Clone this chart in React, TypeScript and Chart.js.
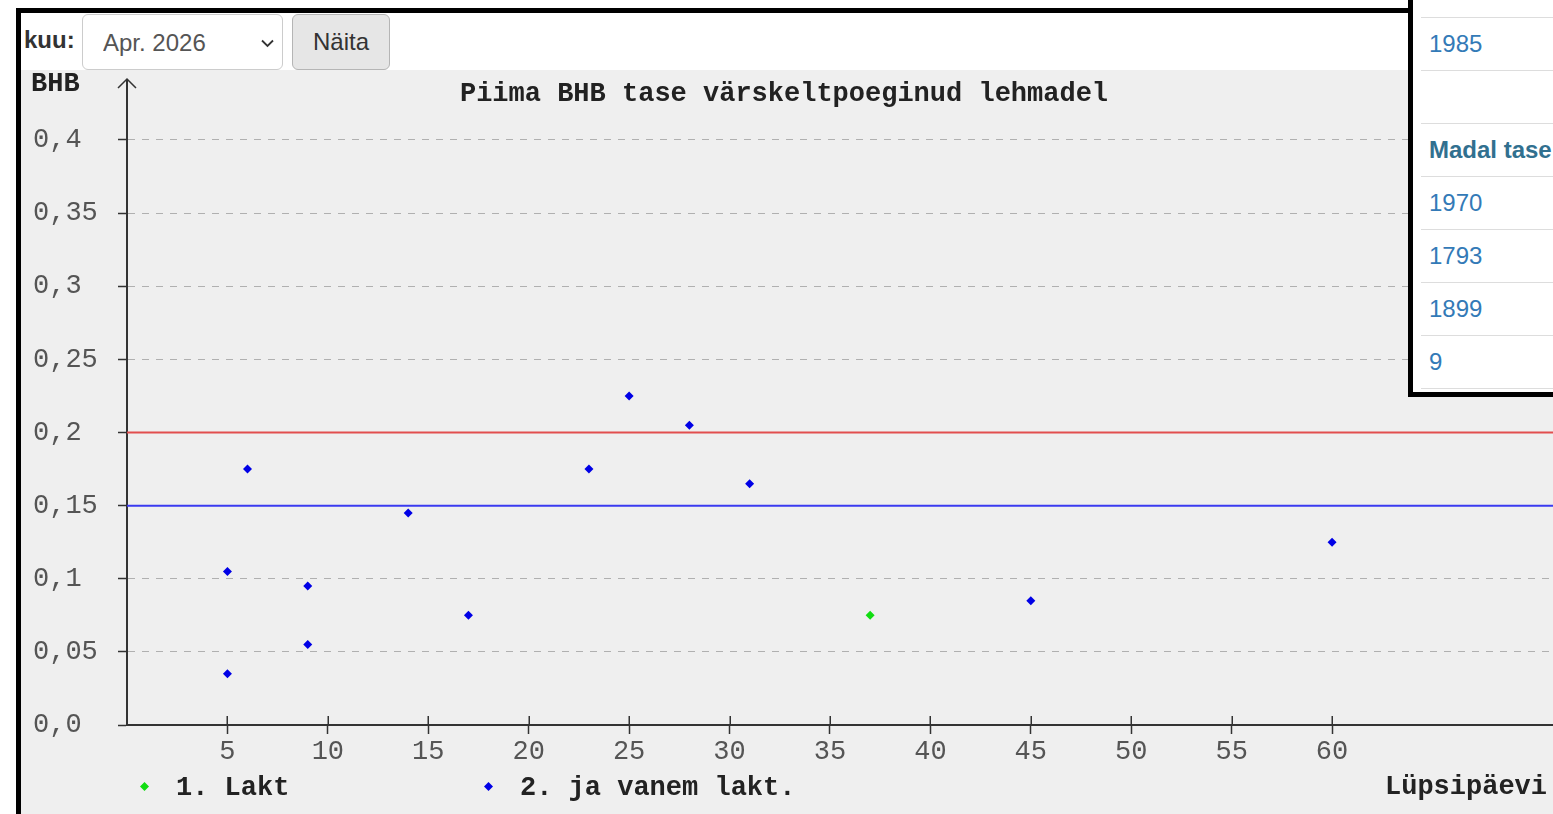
import React, { useEffect, useRef } from 'react';
import { Chart, registerables } from 'chart.js';

Chart.register(...registerables);

// ---------- data ----------
const chartTitle = 'Piima BHB tase värskeltpoeginud lehmadel';
const yAxisLabel = 'BHB';
const xAxisLabel = 'Lüpsipäevi';

const series1Label = '1. Lakt';
const series1Days = [37];
const series1Bhb = [0.075];

const series2Label = '2. ja vanem lakt.';
const series2Days = [5, 5, 6, 9, 9, 14, 17, 23, 25, 28, 31, 45, 60];
const series2Bhb = [0.105, 0.035, 0.175, 0.095, 0.055, 0.145, 0.075, 0.175, 0.225, 0.205, 0.165, 0.085, 0.125];

const upperLimitLabel = 'Kõrge tase';
const upperLimit = 0.2;
const lowerLimitLabel = 'Madal tase';
const lowerLimit = 0.15;

const xMin = 0;
const xMax = 71;
const yMin = 0;
const yMax = 0.44;
const xTickValues = [5, 10, 15, 20, 25, 30, 35, 40, 45, 50, 55, 60];
const yTickValues = [0, 0.05, 0.1, 0.15, 0.2, 0.25, 0.3, 0.35, 0.4];
const yTickLabels = ['0,0', '0,05', '0,1', '0,15', '0,2', '0,25', '0,3', '0,35', '0,4'];

const monthLabel = 'kuu:';
const monthOptions = ['Apr. 2026'];
const showButtonLabel = 'Näita';
const tableRows = ['', '1985', '', 'Madal tase', '1970', '1793', '1899', '9'];
const tableHeaderRows = ['Madal tase'];

// ---------- styles ----------
const MONO = '"Liberation Mono", "Courier New", monospace';
const SANS = '"Liberation Sans", Arial, Helvetica, sans-serif';
const AXIS = '#333333';
const TICK_TEXT = '#555555';
const DARK_TEXT = '#222222';
const BLUE_POINT = '#0000e6';
const GREEN_POINT = '#11dd11';
const RED_LINE = 'rgb(226, 78, 78)';
const BLUE_LINE = 'rgb(58, 58, 240)';

function diamond(ctx: CanvasRenderingContext2D, cx: number, cy: number, r: number, color: string) {
  ctx.beginPath();
  ctx.moveTo(cx, cy - r);
  ctx.lineTo(cx + r, cy);
  ctx.lineTo(cx, cy + r);
  ctx.lineTo(cx - r, cy);
  ctx.closePath();
  ctx.fillStyle = color;
  ctx.fill();
}

const zeroPadding = (s: any) => {
  s.paddingTop = 0;
  s.paddingBottom = 0;
  s.paddingLeft = 0;
  s.paddingRight = 0;
};

const decorations = {
  id: 'decorations',
  afterDraw(chart: any) {
    const { ctx, chartArea, scales } = chart;
    const xs = scales.x;
    ctx.save();
    // axis arrow
    ctx.strokeStyle = AXIS;
    ctx.lineWidth = 1.5;
    ctx.beginPath();
    ctx.moveTo(chartArea.left, chartArea.top + 1);
    ctx.lineTo(chartArea.left, chartArea.top - 2.5);
    ctx.moveTo(chartArea.left - 9, chartArea.top + 6.5);
    ctx.lineTo(chartArea.left, chartArea.top - 2.5);
    ctx.lineTo(chartArea.left + 9, chartArea.top + 6.5);
    ctx.stroke();
    // x ticks crossing the axis (upper halves)
    ctx.lineWidth = 1.5;
    ctx.beginPath();
    xs.ticks.forEach((t: any) => {
      const px = Math.round(xs.getPixelForValue(t.value)) + 0.25;
      ctx.moveTo(px, chartArea.bottom - 9);
      ctx.lineTo(px, chartArea.bottom);
    });
    ctx.stroke();
    // title
    ctx.fillStyle = DARK_TEXT;
    ctx.font = `bold 27px ${MONO}`;
    ctx.textBaseline = 'alphabetic';
    ctx.textAlign = 'center';
    ctx.fillText(chartTitle, 763, 31);
    // y label
    ctx.textAlign = 'left';
    ctx.fillText(yAxisLabel, 10, 20.5);
    // legend
    const ds = chart.data.datasets;
    diamond(ctx, 123.5, 716.5, 4.5, ds[1].backgroundColor);
    diamond(ctx, 467.5, 716.5, 4.5, ds[0].backgroundColor);
    ctx.fillStyle = DARK_TEXT;
    ctx.fillText(ds[1].label, 155, 725);
    ctx.fillText(ds[0].label, 499, 725);
    // x axis label
    ctx.textAlign = 'right';
    ctx.fillText(xAxisLabel, 1526, 724);
    ctx.restore();
  },
};

function BhbChart() {
  const ref = useRef<HTMLCanvasElement | null>(null);
  useEffect(() => {
    if (!ref.current) return;
    const chart = new Chart(ref.current, {
      type: 'scatter',
      data: {
        datasets: [
          {
            label: series2Label,
            data: series2Days.map((d, i) => ({ x: d, y: series2Bhb[i] })),
            pointStyle: 'rectRot',
            pointRadius: 4.5,
            pointHoverRadius: 4.5,
            backgroundColor: BLUE_POINT,
            borderColor: BLUE_POINT,
            borderWidth: 0,
          },
          {
            label: series1Label,
            data: series1Days.map((d, i) => ({ x: d, y: series1Bhb[i] })),
            pointStyle: 'rectRot',
            pointRadius: 4.5,
            pointHoverRadius: 4.5,
            backgroundColor: GREEN_POINT,
            borderColor: GREEN_POINT,
            borderWidth: 0,
          },
          {
            type: 'line',
            label: upperLimitLabel,
            data: [{ x: xMin, y: upperLimit }, { x: xMax, y: upperLimit }],
            borderColor: RED_LINE,
            backgroundColor: RED_LINE,
            borderWidth: 2,
            pointRadius: 0,
            fill: false,
          },
          {
            type: 'line',
            label: lowerLimitLabel,
            data: [{ x: xMin, y: lowerLimit }, { x: xMax, y: lowerLimit }],
            borderColor: BLUE_LINE,
            backgroundColor: BLUE_LINE,
            borderWidth: 2,
            pointRadius: 0,
            fill: false,
          },
        ],
      } as any,
      options: {
        animation: false,
        responsive: true,
        maintainAspectRatio: false,
        events: [],
        layout: { autoPadding: false, padding: { left: 12, top: 11.5, right: 0, bottom: 0 } },
        plugins: {
          legend: { display: false },
          title: { display: false },
          tooltip: { enabled: false },
        },
        scales: {
          x: {
            type: 'linear',
            min: xMin,
            max: xMax,
            afterBuildTicks: (s: any) => {
              s.ticks = xTickValues.map((v) => ({ value: v }));
            },
            afterFit: (s: any) => {
              s.height = 89;
              zeroPadding(s);
            },
            grid: {
              display: true,
              drawOnChartArea: false,
              drawTicks: true,
              tickLength: 9,
              tickColor: AXIS,
              tickWidth: 1.5,
            },
            border: { display: true, color: AXIS, width: 2 },
            ticks: {
              color: TICK_TEXT,
              font: { family: MONO, size: 27 },
              padding: 2,
              maxRotation: 0,
              autoSkip: false,
            },
          },
          y: {
            type: 'linear',
            min: yMin,
            max: yMax,
            afterBuildTicks: (s: any) => {
              s.ticks = yTickValues.map((v) => ({ value: v }));
            },
            afterFit: (s: any) => {
              s.width = 94;
              zeroPadding(s);
            },
            grid: {
              color: '#b0b0b0',
              lineWidth: 1,
              drawTicks: true,
              tickLength: 9,
              tickColor: AXIS,
              tickWidth: 1.5,
              tickBorderDash: [],
            },
            border: { display: true, color: AXIS, width: 2, dash: [7, 7] },
            ticks: {
              color: TICK_TEXT,
              font: { family: MONO, size: 27 },
              crossAlign: 'far',
              autoSkip: false,
              callback: (_v: any, i: number) => yTickLabels[i],
            },
          },
        },
      } as any,
      plugins: [decorations],
    });
    return () => chart.destroy();
  }, []);
  return <canvas ref={ref} />;
}

export default function App() {
  return (
    <div
      style={{
        position: 'fixed',
        left: 0,
        top: 0,
        width: 1553,
        height: 814,
        overflow: 'hidden',
        background: '#fff',
        fontFamily: SANS,
      }}
    >
      {/* frame */}
      <div
        style={{
          position: 'absolute',
          left: 16,
          top: 8,
          width: 1700,
          height: 900,
          boxSizing: 'border-box',
          borderLeft: '5px solid #000',
          borderTop: '5px solid #000',
          background: '#fff',
        }}
      />
      {/* form bar */}
      <span
        style={{
          position: 'absolute',
          left: 24,
          top: 28.4,
          fontSize: 24,
          lineHeight: '24px',
          fontWeight: 'bold',
          color: '#333',
        }}
      >
        {monthLabel}
      </span>
      <select
        defaultValue={monthOptions[0]}
        style={{
          position: 'absolute',
          left: 82,
          top: 14,
          width: 201,
          height: 56,
          boxSizing: 'border-box',
          border: '1px solid #ccc',
          borderRadius: 6,
          background: '#fff',
          color: '#555',
          fontFamily: SANS,
          fontSize: 24,
          paddingLeft: 20,
          appearance: 'none',
          WebkitAppearance: 'none',
          outline: 'none',
        } as any}
      >
        {monthOptions.map((m) => (
          <option key={m} value={m}>
            {m}
          </option>
        ))}
      </select>
      <svg
        width={13}
        height={9}
        style={{ position: 'absolute', left: 261, top: 39, pointerEvents: 'none' }}
      >
        <polyline points="1,1.5 6.5,7 12,1.5" fill="none" stroke="#333" strokeWidth={1.8} />
      </svg>
      <button
        style={{
          position: 'absolute',
          left: 292,
          top: 14,
          width: 98,
          height: 56,
          boxSizing: 'border-box',
          border: '1px solid #b5b5b5',
          borderRadius: 6,
          background: '#e6e6e6',
          color: '#333',
          fontFamily: SANS,
          fontSize: 24,
          padding: 0,
        }}
      >
        {showButtonLabel}
      </button>
      {/* chart area */}
      <div
        style={{
          position: 'absolute',
          left: 21,
          top: 70,
          width: 1532,
          height: 744,
          background: '#efefef',
        }}
      >
        <div style={{ position: 'relative', width: 1532, height: 744 }}>
          <BhbChart />
        </div>
      </div>
      {/* side table */}
      <div
        style={{
          position: 'absolute',
          left: 1408,
          top: 0,
          width: 200,
          height: 397,
          boxSizing: 'border-box',
          borderLeft: '5px solid #000',
          borderBottom: '5px solid #000',
          background: '#fff',
          overflow: 'hidden',
        }}
      >
        {tableRows.map((r, i) => (
          <div
            key={i}
            style={{
              position: 'absolute',
              left: 8,
              right: 0,
              top: -35.6 + i * 53.1,
              height: 53.1,
              boxSizing: 'border-box',
              borderBottom: '1px solid #dddddd',
              paddingLeft: 8,
              display: 'flex',
              alignItems: 'center',
              fontSize: 24,
              whiteSpace: 'nowrap',
              fontWeight: tableHeaderRows.includes(r) ? 'bold' : 'normal',
              color: tableHeaderRows.includes(r) ? '#31708f' : '#337ab7',
            }}
          >
            {r}
          </div>
        ))}
      </div>
    </div>
  );
}
